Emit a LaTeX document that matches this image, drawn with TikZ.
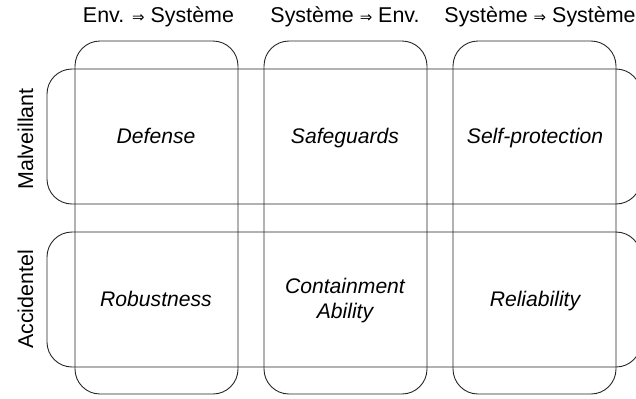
\documentclass[tikz,border=0pt]{standalone}
\usepackage{fontspec}
\setmainfont{Liberation Sans}
\newfontfamily\arrfont{DejaVu Sans}
\newcommand{\dimp}{{\arrfont\fontsize{15}{16}\selectfont ⇒}}
\begin{document}
\begin{tikzpicture}[x=1bp,y=-1bp,
  band/.style={draw=black!85, line width=0.9bp, rounded corners=25bp, inner sep=0pt},
  lbl/.style={font=\fontsize{21.5}{24}\selectfont, inner sep=0pt, anchor=base},
  cell/.style={font=\fontsize{21.2}{25.5}\selectfont\itshape, align=center, inner sep=0pt, anchor=base}]
\useasboundingbox (0,0) rectangle (636,398);
% columns
\node[band, minimum width=163bp, minimum height=353bp] (c1) at (156.5,217.5) {};
\node[band, minimum width=163bp, minimum height=353bp] (c2) at (345.5,217.5) {};
\node[band, minimum width=163bp, minimum height=353bp] (c3) at (534.5,217.5) {};
% rows
\node[band, minimum width=594bp, minimum height=135bp] (r1) at (344,136.5) {};
\node[band, minimum width=594bp, minimum height=135bp] (r2) at (344,299.5) {};
% headers
\node[lbl] (h1) at (158.5,22) {Env. \dimp{} Système};
\node[lbl] (h2) at (345,22) {Système \dimp{} Env.};
\node[lbl] (h3) at (540,22) {Système \dimp{} Système};
% row labels
\node[lbl, rotate=90] (m) at (33,139) {Malveillant};
\node[lbl, rotate=90] (a) at (33,299.5) {Accidentel};
% cells
\node[cell] (d) at (156,143.5) {Defense};
\node[cell] (s) at (345,143.5) {Safeguards};
\node[cell] (sp) at (535,143.5) {Self-protection};
\node[cell] (rb) at (156,306) {Robustness};
\node[cell] (ca) at (345,318.5) {Containment\\Ability};
\node[cell] (rl) at (535,306) {Reliability};
\end{tikzpicture}
\end{document}
